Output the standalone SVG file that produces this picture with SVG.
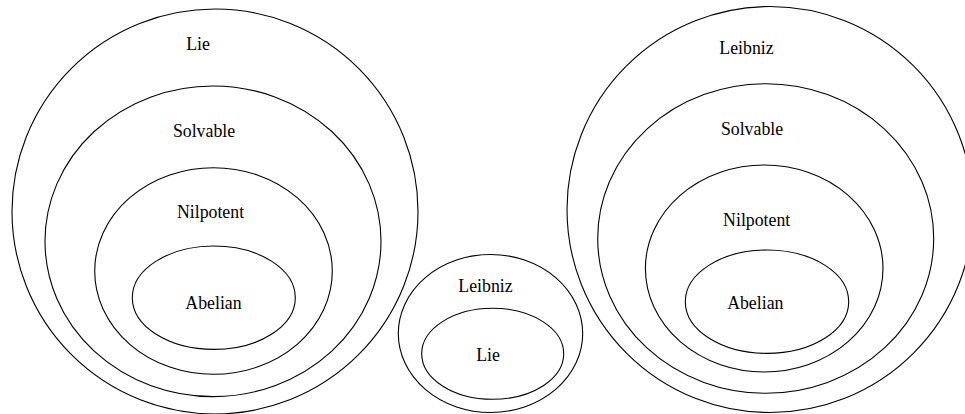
<svg xmlns="http://www.w3.org/2000/svg" width="965" height="414" viewBox="0 0 965 414">
<style>
.s{fill:none;stroke:#000;stroke-width:1.1}
.t{font-family:'Liberation Serif','Times New Roman',serif;font-size:17.8px;fill:#000;text-anchor:middle}
</style>
<rect width="965" height="414" fill="#fff"/>
<g id="left">
<g id="lie1"><ellipse class="s" cx="215" cy="211.5" rx="203" ry="202.5"/><text class="t" x="198" y="50">Lie</text></g>
<g id="solvable1"><ellipse class="s" cx="213" cy="241.3" rx="168" ry="155.3"/><text class="t" x="204" y="137">Solvable</text></g>
<g id="nilpotent1"><ellipse class="s" cx="213.5" cy="271" rx="118.8" ry="103.3"/><text class="t" x="210.5" y="218">Nilpotent</text></g>
<g id="abelian1"><ellipse class="s" cx="213.8" cy="297.7" rx="81.5" ry="51.7"/><text class="t" x="213.5" y="309">Abelian</text></g>
</g>
<g id="middle">
<g id="leibniz2"><ellipse class="s" cx="490.5" cy="333.5" rx="92.2" ry="79"/><text class="t" x="485.5" y="292">Leibniz</text></g>
<g id="lie2"><ellipse class="s" cx="492.7" cy="353.8" rx="71" ry="45.5"/><text class="t" x="488" y="360.5">Lie</text></g>
</g>
<g id="right">
<g id="leibniz3"><ellipse class="s" cx="770" cy="209.5" rx="203" ry="203"/><text class="t" x="746.5" y="54">Leibniz</text></g>
<g id="solvable3"><ellipse class="s" cx="765.7" cy="238.5" rx="168" ry="154.8"/><text class="t" x="752" y="135">Solvable</text></g>
<g id="nilpotent3"><ellipse class="s" cx="764.2" cy="268.5" rx="118.8" ry="103.5"/><text class="t" x="756.7" y="226">Nilpotent</text></g>
<g id="abelian3"><ellipse class="s" cx="767" cy="301.7" rx="81.7" ry="51.7"/><text class="t" x="755.3" y="309">Abelian</text></g>
</g>
<g id="connectors"/>
</svg>
